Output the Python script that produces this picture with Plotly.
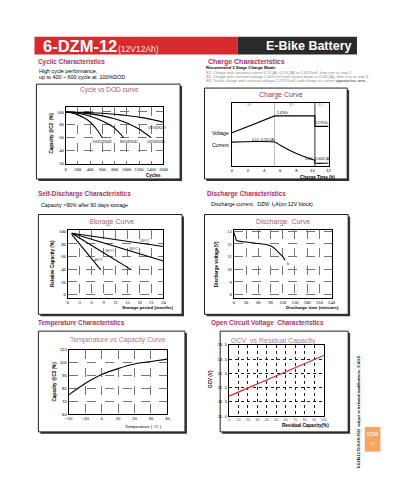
import plotly.graph_objects as go

W, H = 395, 500
def X(px): return px / W
def Y(py): return 1 - py / H

# ---------------- data ----------------
# Cycle vs DOD
dod100_cycles = [0, 100, 200, 300, 400, 500, 600]
dod100_cap = [100, 98.5, 95.5, 91, 84.5, 74, 60]
dod80_cycles = [0, 200, 400, 600, 800, 950]
dod80_cap = [100, 98, 93.5, 86, 75, 60]
dod50_cycles = [0, 200, 400, 600, 800, 1000, 1200, 1400]
dod50_cap = [100, 99, 97, 94, 89.5, 83, 73.5, 60]
dod30_cycles = [0, 200, 400, 600, 800, 1000, 1200, 1400, 1600]
dod30_cap = [100, 99.6, 99, 98, 96.5, 94.5, 92, 88.5, 84]
cycle_ticks = [0, 200, 400, 600, 800, 1000, 1200, 1400, 1600]
cap_ticks = [20, 40, 60, 80, 100]
dod_labels = ["100%DOD", "80%DOD", "50%DOD", "30%DOD"]

# Charge curve (relative scale 0-100)
charge_v_time = [0, 5.3, 10.3, 10.3, 12]
charge_v_level = [52.6, 79.4, 79.4, 62.9, 62.9]
charge_i_time = [0, 5.3, 6.0, 6.8, 7.6, 8.4, 9.2, 10.0, 10.3, 10.3, 12]
charge_i_level = [38, 38, 33, 27.5, 22.5, 18, 14, 10.5, 9, 5, 5]
charge_ticks = [0, 2, 4, 6, 8, 10, 12]
stage_split = [5.3, 10.3]

# Storage curve
storage_10_m = [1, 24]; storage_10_c = [97, 76]
storage_20_m = [1, 24]; storage_20_c = [97, 53]
storage_30_m = [1, 16]; storage_30_c = [97, 39]
storage_40_m = [1, 8.3]; storage_40_c = [95, 39]
month_ticks = [0, 3, 6, 9, 12, 15, 18, 21, 24]
rel_ticks = [0, 20, 40, 60, 80, 100]

# Discharge curve
dis_minutes = [0, 1, 2, 3, 4, 6, 8, 12, 20, 30, 40, 50, 60, 70, 80, 88, 95, 102, 108, 114, 120, 126]
dis_volts = [12.92, 12.82, 12.68, 12.52, 12.4, 12.3, 12.25, 12.22, 12.19, 12.16, 12.13, 12.1, 12.06,
             12.02, 11.96, 11.89, 11.78, 11.6, 11.42, 11.22, 11.0, 10.73]
minute_ticks = [0, 30, 60, 90, 120, 150, 180, 210, 240]
volt_ticks = [8, 9, 10, 11, 12, 13]

# Temperature vs capacity
temp_c = [-20, -10, 0, 10, 20, 30, 40]
temp_cap = [75, 83.8, 90.8, 95.4, 99, 101, 102.8]
temp_ticks = [-20, -10, 0, 10, 20, 30, 40]
tcap_ticks = [60, 70, 80, 90, 100, 110]

# OCV vs residual capacity
resid_cap = [0, 100]
ocv_volts = [11.7, 13.13]
resid_ticks = [0, 10, 20, 30, 40, 50, 60, 70, 80, 90, 100]
ocv_ticks = [11.0, 11.5, 12.0, 12.5, 13.0, 13.5]
ocv_tick_text = ["11. 0", "11. 5", "12. 0", "12. 5", "13. 0", "13. 5"]

# ---------------- style ----------------
SANS = "Liberation Sans, Arial, sans-serif"
SERIF = "Liberation Serif, Times New Roman, serif"
HEAD = "#ad3260"
CTITLE = "#a0607a"

fig = go.Figure()
shapes = []
ann = []

def box(x0, y0, x1, y1):
    shapes.append(dict(type="rect", xref="paper", yref="paper", x0=X(x0 + 2), x1=X(x1 + 2),
                       y0=Y(y1 + 2), y1=Y(y0 + 2), fillcolor="#333", line=dict(width=0), layer="below"))
    shapes.append(dict(type="rect", xref="paper", yref="paper", x0=X(x0), x1=X(x1),
                       y0=Y(y1), y1=Y(y0), fillcolor="white", line=dict(color="#222", width=1), layer="below"))

def text(x, y, s, size, color="black", family=SANS, xa="left", ya="middle", angle=0):
    ann.append(dict(x=X(x), y=Y(y), xref="paper", yref="paper", text=s, showarrow=False,
                    font=dict(size=size, color=color, family=family), xanchor=xa, yanchor=ya,
                    textangle=angle))

def axes(n, px0, px1, py0, py1, xr, yr, xt, yt, fam, fsize, grid, gridcolor="#777", griddash="dash",
         xtt=None, ytt=None, showy=True):
    sfx = "" if n == 1 else str(n)
    common = dict(showline=True, mirror=True, linecolor="black", linewidth=1, ticks="",
                  tickfont=dict(family=fam, size=fsize, color="black"), zeroline=False,
                  showgrid=grid, gridcolor=gridcolor, griddash=griddash, gridwidth=0.7, tickangle=0)
    fig.layout["xaxis" + sfx] = dict(domain=[X(px0), X(px1)], range=xr, tickvals=xt, ticktext=xtt,
                                     anchor="y" + sfx, **common)
    ydict = dict(domain=[Y(py1), Y(py0)], range=yr, anchor="x" + sfx, showticklabels=showy, **common)
    if yt is not None:
        ydict["tickvals"] = yt
        ydict["ticktext"] = ytt
    fig.layout["yaxis" + sfx] = ydict

def curve(n, x, y, color="black", width=1.1, spline=True):
    sfx = "" if n == 1 else str(n)
    ln = dict(color=color, width=width)
    if spline:
        ln.update(shape="spline", smoothing=0.6)
    fig.add_trace(go.Scatter(x=x, y=y, mode="lines", xaxis="x" + sfx, yaxis="y" + sfx,
                             line=ln, hoverinfo="skip", showlegend=False))

def dlabel(n, x, y, s, size=4.4, family=SERIF, color="black", xa="center"):
    sfx = "" if n == 1 else str(n)
    ann.append(dict(x=x, y=y, xref="x" + sfx, yref="y" + sfx, text=s, showarrow=False,
                    font=dict(size=size, family=family, color=color), xanchor=xa, yanchor="middle"))

# ---------------- header ----------------
shapes.append(dict(type="rect", xref="paper", yref="paper", x0=X(23), x1=X(231), y0=Y(44), y1=Y(26),
                   fillcolor="#d62a2c", line=dict(width=0)))
shapes.append(dict(type="rect", xref="paper", yref="paper", x0=X(231), x1=X(353), y0=Y(44), y1=Y(26),
                   fillcolor="#2a2a2a", line=dict(width=0)))
text(30, 35.5, "<b>6-DZM-12</b>", 16.5, "white")
text(106, 38, "(12V12Ah)", 8.5, "#fbe3e3")
text(349, 35.5, "<b>E-Bike Battery</b>", 12.5, "white", xa="right")

# ---------------- section headings ----------------
text(25, 52, "<b>Cyclic Characteristics</b>", 6.4, HEAD)
text(26, 61, "High cycle performance,", 5.4)
text(26, 67, "up to 400 ~ 600 cycle at  100%DOD", 5.4)

text(199, 52, "<b>Charge Characteristics</b>", 7.0, HEAD)
text(196, 57, "<b>Recommend 3 Stage Charge Mode:</b>", 4.2)
text(196, 62, "<span style='color:#c0506a'>S1:</span> Charge with constant current 0.1C(A)~0.15C(A) to 2.45V/cell, then turn to step 2.", 3.9, "#888")
text(196, 66, "<span style='color:#c0506a'>S2:</span> Charge with constant voltage 2.45V/cell until current drops to 0.02C(A), then turn to step 3.", 3.9, "#888")
text(196, 70, "<span style='color:#c0506a'>S3:</span> Trickle charge with constant voltage 2.275V/cell, end charge as current <span style='color:#333'>approaches zero.</span>", 3.9, "#888")

text(25, 185, "<b>Self-Discharge Characteristics</b>", 6.4, HEAD)
text(28, 196, "Capacity >90% after 90 days storage", 5.3)
text(198, 185, "<b>Discharge Characteristics</b>", 6.4, HEAD)
text(202, 196, "Discharge current,  DZM: I<sub>1</sub>A(on 12V block)", 5.3)
text(25, 316, "<b>Temperature Characteristics</b>", 6.4, HEAD)
text(202, 316, "<b>Open Circuit Voltage  Characteristics</b>", 6.4, HEAD)

# ---------------- chart 1: cycle vs DOD ----------------
box(25, 74, 172, 170)
axes(1, 55, 155, 97, 155, [0, 1600], [19, 108], cycle_ticks, cap_ticks, SERIF, 4.5, True)
curve(1, dod100_cycles, dod100_cap)
curve(1, dod80_cycles, dod80_cap)
curve(1, dod50_cycles, dod50_cap)
curve(1, dod30_cycles, dod30_cap)
dlabel(1, 590, 54.5, dod_labels[0])
dlabel(1, 1040, 53.5, dod_labels[1])
dlabel(1, 1480, 53.5, dod_labels[2])
dlabel(1, 1500, 76, dod_labels[3])
text(100, 80, "Cycle vs DOD curve", 6.5, CTITLE, xa="center")
text(145, 166.5, "<b>Cycles</b>", 4.5, xa="center")
text(40, 124, "<b>Capacity @C2  (%)</b>", 4.6, xa="center", angle=-90)

# ---------------- chart 2: charge curve ----------------
box(197, 78, 343, 170)
axes(2, 225, 324, 93, 157, [0, 12], [0, 100], charge_ticks, None, SANS, 4.3, False, showy=False)
for xv, col in zip(stage_split, ["#bbb", "#333"]):
    fig.add_trace(go.Scatter(x=[xv, xv], y=[0, 100], mode="lines", xaxis="x2", yaxis="y2",
                             line=dict(color=col, width=1), hoverinfo="skip", showlegend=False))
curve(2, charge_v_time, charge_v_level, spline=False)
curve(2, charge_i_time, charge_i_level)
dlabel(2, 2.2, 97, "S1", 4, SANS, "#d08090")
dlabel(2, 7.4, 97, "S2", 4, SANS, "#d08090")
dlabel(2, 11.1, 97, "S3", 4, SANS, "#d08090")
dlabel(2, 6.3, 84, "2.45V/c", 3.4, SANS)
dlabel(2, 11.2, 67.5, "2.275V/c", 3.4, SANS)
dlabel(2, 3.9, 42, "0.1C~0.15C(A)", 3.4, SANS)
dlabel(2, 10.6, 12, "0.02C~0.005C(A)", 3.2, SANS)
text(275, 85, "Charge Curve", 7.0, "#8a3a5a", xa="center")
text(224, 123, "Voltage", 5.0, xa="right")
text(224, 136, "Current", 5.0, xa="right")
text(313, 168.5, "<b>Charge Time (h)</b>", 4.6, xa="center")

# ---------------- chart 3: storage ----------------
box(27, 206, 174, 307)
axes(3, 57, 155, 222, 290, [0, 24], [-4.7, 101.5], month_ticks, rel_ticks, SERIF, 4.6, True)
for m, c in [(storage_10_m, storage_10_c), (storage_20_m, storage_20_c),
             (storage_30_m, storage_30_c), (storage_40_m, storage_40_c)]:
    curve(3, m, c, spline=False)
dlabel(3, 19.3, 86, "10°C")
dlabel(3, 16.6, 72, "20°C")
dlabel(3, 10.4, 69, "30°C")
dlabel(3, 7.7, 55, "40°C")
text(102, 214, "Storage Curve", 7.0, CTITLE, xa="center")
text(139, 300, "<b>Storage period (months)</b>", 4.4, xa="center")
text(42, 256, "<b>Relative Capacity (%)</b>", 4.6, xa="center", angle=-90)

# ---------------- chart 4: discharge ----------------
box(197, 206, 344, 307)
axes(4, 227, 327, 222, 290, [0, 240], [7.77, 13.08], minute_ticks, volt_ticks, SERIF, 4.6, True)
curve(4, dis_minutes, dis_volts, spline=False)
dlabel(4, 134, 10.45, "b")
text(277, 214, "Discharge  Curve", 7.0, CTITLE, xa="center")
text(308, 300, "<b>Discharge time (minutes)</b>", 4.4, xa="center")
text(210, 256, "<b>Discharge voltage(V)</b>", 4.6, xa="center", angle=-90)

# ---------------- chart 5: temperature ----------------
box(27, 324, 177, 426)
axes(5, 58, 159, 343, 408, [-20, 40], [60, 110], temp_ticks, tcap_ticks, SANS, 4.3, True)
curve(5, temp_c, temp_cap)
text(108, 333, "Temperature vs Capacity Curve", 6.8, "#b07590", xa="center")
text(135, 420.5, "Temperature ( °C )", 4.4, xa="center")
text(44, 375, "<b>Capacity @C2 (%)</b>", 4.6, xa="center", angle=-90)

# ---------------- chart 6: OCV ----------------
box(213, 324, 344, 426)
axes(6, 222, 319, 338, 410, [0, 100], [11, 13.5], resid_ticks, ocv_ticks, SANS, 4.2, True,
     gridcolor="#222", griddash="dot", ytt=ocv_tick_text)
fig.layout["xaxis6"]["tickfont"] = dict(family=SANS, size=3.6, color="#555")
curve(6, resid_cap, ocv_volts, color="#d0302a", width=1.3, spline=False)
text(268, 334, "OCV  vs Residual Capacity", 7.0, "#b07590", xa="center")
text(300, 420, "<b>Residual Capacity(%)</b>", 4.6, xa="center")
text(203, 372, "<b>OCV (V)</b>", 4.6, xa="center", angle=-90)

# ---------------- side notes ----------------
text(355, 405, "<b>6-DZM-12-03-H-EN 2022  subject to technical modifications,  E.&O.E.</b>", 3.5,
     xa="center", angle=-90)
shapes.append(dict(type="rect", xref="paper", yref="paper", x0=X(361), x1=X(377), y0=Y(446), y1=Y(421),
                   fillcolor="#f2a765", line=dict(width=0)))
text(369, 428, "DZM", 5, "white", xa="center")
text(369, 438, "33", 4, "#fde0c0", xa="center")

fig.update_layout(width=W, height=H, margin=dict(l=0, r=0, t=0, b=0),
                  paper_bgcolor="white", plot_bgcolor="rgba(0,0,0,0)",
                  shapes=shapes, annotations=ann, showlegend=False)
fig.write_html("out.html")
